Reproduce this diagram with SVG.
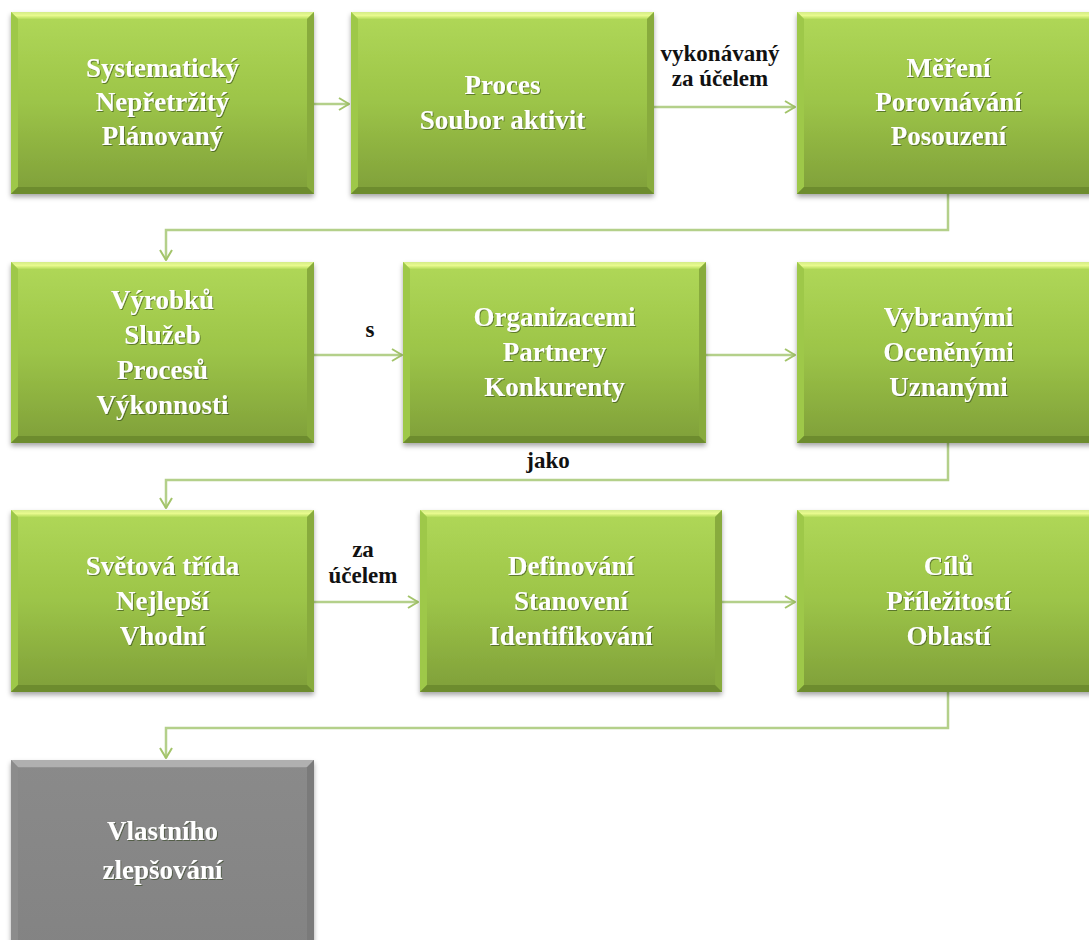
<svg xmlns="http://www.w3.org/2000/svg" xmlns:xlink="http://www.w3.org/1999/xlink" width="1089" height="940" viewBox="0 0 1089 940">
<defs>
  <linearGradient id="gFill" x1="0" y1="0" x2="0" y2="1">
    <stop offset="0" stop-color="#b0d858"/>
    <stop offset="0.5" stop-color="#9cc448"/>
    <stop offset="1" stop-color="#7f9f39"/>
  </linearGradient>
  <linearGradient id="gTop" x1="0" y1="0" x2="0" y2="1">
    <stop offset="0" stop-color="#d4ec88"/>
    <stop offset="0.5" stop-color="#e8fa8e"/>
    <stop offset="1" stop-color="#b6dc5c"/>
  </linearGradient>
  <linearGradient id="grFill" x1="0" y1="0" x2="0" y2="1">
    <stop offset="0" stop-color="#8a8a8a"/>
    <stop offset="1" stop-color="#838383"/>
  </linearGradient>
  <filter id="shadow" x="-5%" y="-5%" width="110%" height="115%">
    <feDropShadow dx="0" dy="3" stdDeviation="2.5" flood-color="#000" flood-opacity="0.35"/>
  </filter>
  <filter id="tshadow" x="-5%" y="-20%" width="110%" height="140%">
    <feDropShadow dx="1" dy="1" stdDeviation="0.6" flood-color="#2a3a10" flood-opacity="0.55"/>
  </filter>
  <symbol id="greenBox" viewBox="0 0 303 182" preserveAspectRatio="none">
    <rect x="0" y="0" width="303" height="182" fill="url(#gFill)"/>
    <polygon points="0,0 303,0 296,7 7,7" fill="url(#gTop)"/>
    <polygon points="0,0 7,7 7,175 0,182" fill="#9ec84a"/>
    <polygon points="303,0 296,7 296,175 303,182" fill="#88ab3e"/>
    <polygon points="0,182 7,175 296,175 303,182" fill="#6d8c2e"/>
  </symbol>
  <symbol id="grayBox" viewBox="0 0 303 182" preserveAspectRatio="none">
    <rect x="0" y="0" width="303" height="182" fill="url(#grFill)"/>
    <polygon points="0,0 303,0 296,7 7,7" fill="#b0b0b0"/>
    <polygon points="0,0 7,7 7,175 0,182" fill="#8c8c8c"/>
    <polygon points="303,0 296,7 296,175 303,182" fill="#7a7a7a"/>
    <polygon points="0,182 7,175 296,175 303,182" fill="#666"/>
  </symbol>
  <marker id="arr" viewBox="0 0 12 14" refX="11" refY="7" markerWidth="12" markerHeight="14" markerUnits="userSpaceOnUse" orient="auto">
    <path d="M1,1 L11,7 L1,13" fill="none" stroke="#a3c46a" stroke-width="2"/>
  </marker>
</defs>
<style>
  .nt { font-family: "Liberation Serif", "Times New Roman", serif; font-weight: bold; font-size: 27px; fill: #ffffff; text-anchor: middle; filter: url(#tshadow); }
  .lb { font-family: "Liberation Serif", "Times New Roman", serif; font-weight: bold; font-size: 23px; fill: #111111; text-anchor: middle; }
  .cn { fill: none; stroke: #b4d08a; stroke-width: 2.5; marker-end: url(#arr); }
  .box { filter: url(#shadow); }
</style>
<rect width="1089" height="940" fill="#ffffff"/>

<g id="connectors">
  <path class="cn" d="M314,104 H349"/>
  <path class="cn" d="M654,107 H795"/>
  <path class="cn" d="M948,194 V230 H166 V260"/>
  <path class="cn" d="M314,355 H402"/>
  <path class="cn" d="M706,355 H795"/>
  <path class="cn" d="M948,443 V480 H166 V508"/>
  <path class="cn" d="M314,602 H418"/>
  <path class="cn" d="M722,602 H795"/>
  <path class="cn" d="M948,692 V728 H166 V758"/>
  <text class="lb" x="720" y="61">vykonávaný</text>
  <text class="lb" x="720" y="86">za účelem</text>
  <text class="lb" x="370" y="337">s</text>
  <text class="lb" x="548" y="468">jako</text>
  <text class="lb" x="363" y="557">za</text>
  <text class="lb" x="363" y="583">účelem</text>
</g>

<g id="n1">
  <use class="box" href="#greenBox" x="11" y="12" width="303" height="182"/>
  <text class="nt" x="162.5" y="77">Systematický</text>
  <text class="nt" x="162.5" y="111">Nepřetržitý</text>
  <text class="nt" x="162.5" y="145">Plánovaný</text>
</g>
<g id="n2">
  <use class="box" href="#greenBox" x="351" y="12" width="303" height="182"/>
  <text class="nt" x="502.5" y="94">Proces</text>
  <text class="nt" x="502.5" y="129">Soubor aktivit</text>
</g>
<g id="n3">
  <use class="box" href="#greenBox" x="797" y="12" width="303" height="182"/>
  <text class="nt" x="948.5" y="77">Měření</text>
  <text class="nt" x="948.5" y="111">Porovnávání</text>
  <text class="nt" x="948.5" y="145">Posouzení</text>
</g>
<g id="n4">
  <use class="box" href="#greenBox" x="11" y="262" width="303" height="181"/>
  <text class="nt" x="162.5" y="309">Výrobků</text>
  <text class="nt" x="162.5" y="344">Služeb</text>
  <text class="nt" x="162.5" y="379">Procesů</text>
  <text class="nt" x="162.5" y="414">Výkonnosti</text>
</g>
<g id="n5">
  <use class="box" href="#greenBox" x="403" y="262" width="303" height="181"/>
  <text class="nt" x="554.5" y="326">Organizacemi</text>
  <text class="nt" x="554.5" y="361">Partnery</text>
  <text class="nt" x="554.5" y="396">Konkurenty</text>
</g>
<g id="n6">
  <use class="box" href="#greenBox" x="797" y="262" width="303" height="181"/>
  <text class="nt" x="948.5" y="326">Vybranými</text>
  <text class="nt" x="948.5" y="361">Oceněnými</text>
  <text class="nt" x="948.5" y="396">Uznanými</text>
</g>
<g id="n7">
  <use class="box" href="#greenBox" x="11" y="510" width="303" height="182"/>
  <text class="nt" x="162.5" y="575">Světová třída</text>
  <text class="nt" x="162.5" y="610">Nejlepší</text>
  <text class="nt" x="162.5" y="645">Vhodní</text>
</g>
<g id="n8">
  <use class="box" href="#greenBox" x="420" y="510" width="302" height="182"/>
  <text class="nt" x="571" y="575">Definování</text>
  <text class="nt" x="571" y="610">Stanovení</text>
  <text class="nt" x="571" y="645">Identifikování</text>
</g>
<g id="n9">
  <use class="box" href="#greenBox" x="797" y="510" width="303" height="182"/>
  <text class="nt" x="948.5" y="575">Cílů</text>
  <text class="nt" x="948.5" y="610">Příležitostí</text>
  <text class="nt" x="948.5" y="645">Oblastí</text>
</g>
<g id="n10">
  <use class="box" href="#grayBox" x="11" y="760" width="303" height="190"/>
  <text class="nt" x="162.5" y="840">Vlastního</text>
  <text class="nt" x="162.5" y="879">zlepšování</text>
</g>
</svg>
